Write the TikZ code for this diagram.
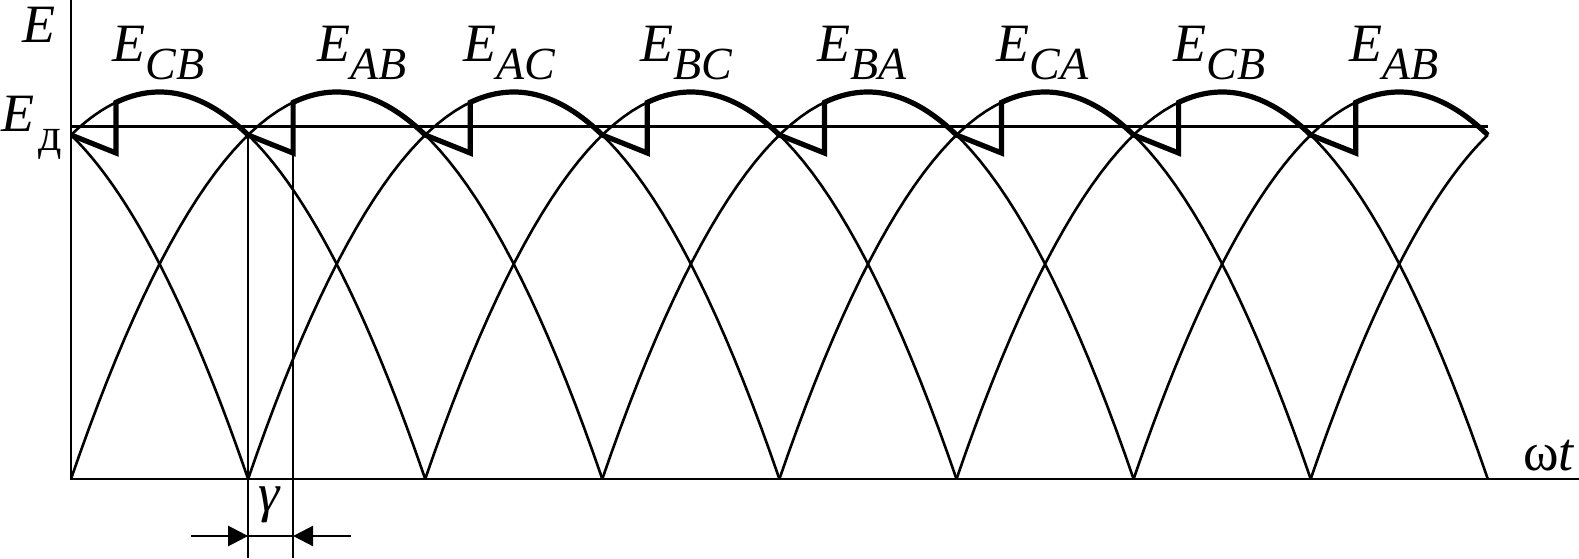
\documentclass[tikz,border=0pt]{standalone}
\usepackage{fontspec}
\setmainfont{Liberation Serif}
\usetikzlibrary{arrows.meta}

\newcommand{\subfont}{\fontsize{23pt}{27pt}\selectfont}
\newcommand{\emf}[2]{\textit{#1}\lower9pt\hbox{\subfont#2}}

\begin{document}
\begin{tikzpicture}[x=0.5pt,y=0.5pt,>/.tip={Triangle[length=10pt,width=10pt]},
	declare function={arch(\t,\m)=387*(1-((\t-\m)/265.65)^2);},
	every node/.style={inner sep=0pt,font=\fontsize{27pt}{32pt}\selectfont}]
	\def\s{177.1}
	\useasboundingbox (-71,-79) rectangle (1508,479);

	\coordinate (top) at (0,479);
	\coordinate (o) at (0,0);
	\coordinate (right) at (1508,0);
	\coordinate (d0) at (0,352.3);
	\coordinate (d8) at (8*\s,352.3);
	\draw[line width=1.3pt] (top) -- (o) -- (right);
	\draw[line width=1.3pt] (d0) -- (d8);

	\foreach \j/\a/\b in {-2/0/1,-1/0/2,0/0/3,1/1/4,2/2/5,3/3/6,4/4/7,5/5/8,6/6/8,7/7/8}
		\draw[line width=1.3pt] plot[domain=\a*\s:\b*\s,samples=60] (\x,{arch(\x,(\j+1.5)*\s)});

	\draw[line width=2.6pt] (0,344)
		\foreach \k [evaluate=\k as \xb using \k*\s+45,
		             evaluate=\k as \xc using (\k+1)*\s,
		             evaluate=\k as \mm using (\k+0.5)*\s] in {0,...,7}
		{ -- (\xb,326) -- (\xb,{arch(\xb,\mm)}) -- plot[domain=\xb:\xc,samples=40] (\x,{arch(\x,\mm)}) };

	\coordinate (c1) at (\s,344);
	\coordinate (b1) at (\s,-79);
	\coordinate (c2) at (\s+45,326);
	\coordinate (b2) at (\s+45,-79);
	\draw[line width=1.3pt] (c1) -- (b1);
	\draw[line width=1.3pt] (c2) -- (b2);
	\coordinate (a1) at (120,-57);
	\coordinate (t1) at (\s,-57);
	\coordinate (a2) at (280,-57);
	\coordinate (t2) at (\s+45,-57);
	\draw[->,line width=1.3pt] (a1) -- (t1);
	\draw[->,line width=1.3pt] (a2) -- (t2);
	\draw[line width=1.3pt] (t1) -- (t2);

	\node (gam) at (199,-26) {\textit{γ}};
	\node (E) [anchor=base west] at (-49,436) {\textit{E}};
	\node (Ed) [anchor=base west] at (-70,347) {\textit{E}\hspace{2pt}\lower9pt\hbox{\subfont д}};
	\node (wt) [anchor=base west] at (1452,9) {ω\textit{t}};
	\foreach \x/\p/\q [count=\i] in {41/C/B,246/A/B,392/A/C,569/B/C,746/B/A,925/C/A,1102/C/B,1278/A/B}
		\node (L\i) [anchor=base west] at (\x,417) {\emf{E}{\textit{\p\q}}};
\end{tikzpicture}
\end{document}
